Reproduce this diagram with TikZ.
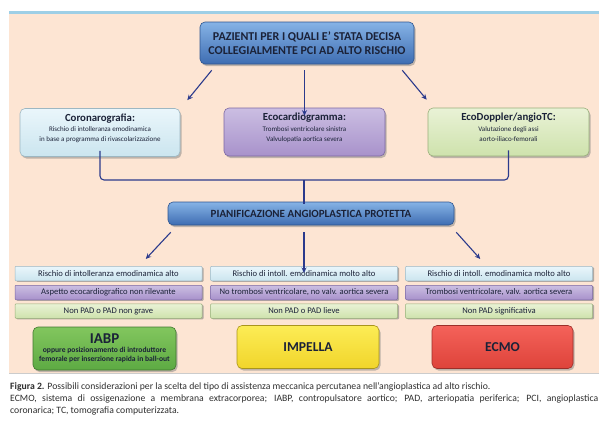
\documentclass[tikz,border=0pt]{standalone}
\usepackage{fontspec}
\setmainfont{Carlito}
\usetikzlibrary{arrows.meta,shadows}
\definecolor{peach}{HTML}{FDE5D3}
\definecolor{topline}{HTML}{9ECFE6}
\definecolor{navy}{HTML}{2B3A8C}
\definecolor{boxtext}{HTML}{1B2238}
\definecolor{bluetop}{HTML}{86B3E6}
\definecolor{bluebot}{HTML}{3E6DB2}
\definecolor{blueedge}{HTML}{2F558F}
\definecolor{cyantop}{HTML}{EAF6FB}
\definecolor{cyanbot}{HTML}{CBE5EF}
\definecolor{cyanedge}{HTML}{9DB7C2}
\definecolor{liltop}{HTML}{CBBEE2}
\definecolor{lilbot}{HTML}{A892CB}
\definecolor{liledge}{HTML}{7C68A3}
\definecolor{grntop}{HTML}{E9F2D6}
\definecolor{grnbot}{HTML}{CEE2AC}
\definecolor{grnedge}{HTML}{98AF7A}
\definecolor{iabptop}{HTML}{82C65E}
\definecolor{iabpbot}{HTML}{5DAA43}
\definecolor{impltop}{HTML}{FCEC55}
\definecolor{implbot}{HTML}{F1D52A}
\definecolor{ecmotop}{HTML}{F4625A}
\definecolor{ecmobot}{HTML}{DE433A}
\definecolor{captext}{HTML}{2E2E2E}
\newcommand\boxtitle{\fontsize{10.8}{12}\selectfont\bfseries}
\begin{document}
\begin{tikzpicture}[x=1pt,y=-1pt,
  arr/.style={-{Stealth[length=5.5pt,width=5pt]},navy,line width=1.1pt},
  brace/.style={navy,line width=1.1pt,rounded corners=4pt},
  bigbox/.style={draw=#1,line width=0.6pt,rounded corners=5pt,align=center,inner sep=1pt,
    text=boxtext,drop shadow={shadow xshift=1.5pt,shadow yshift=-2pt,opacity=.5}},
  exam/.style={bigbox=#1,minimum width=161pt,minimum height=48pt,text depth=10pt,
    font=\fontsize{7}{9.8}\selectfont},
  device/.style={bigbox=#1,minimum width=142pt,minimum height=43pt,
    font=\fontsize{13.6}{14}\selectfont\bfseries},
  strip/.style={draw=#1,line width=0.5pt,rounded corners=1pt,inner sep=0pt,
    minimum width=187pt,minimum height=14.5pt,text=boxtext,
    font=\fontsize{8.6}{9}\selectfont,
    drop shadow={shadow xshift=1.5pt,shadow yshift=-1pt,opacity=.6}}
]
\useasboundingbox (0,0) rectangle (608,426);
% panel
\fill[peach] (9,14) rectangle (599,373);
\draw[black!20,line width=1pt] (9,373.5) -- (599,373.5);
\draw[topline,line width=3pt] (9,12.5) -- (599,12.5);

% top level
\node[bigbox=blueedge,top color=bluetop,bottom color=bluebot,
  minimum width=214pt,minimum height=42pt,
  font=\fontsize{12}{14}\selectfont\bfseries] (patients) at (307,43)
  {PAZIENTI PER I QUALI E' STATA DECISA\\COLLEGIALMENTE PCI AD ALTO RISCHIO};

% exams
\node[exam=cyanedge,top color=cyantop,bottom color=cyanbot,minimum width=160pt] (coro) at (100,132.5)
  {{\boxtitle Coronarografia:}\\[1pt]
   Rischio di intolleranza emodinamica\\in base a programma di rivascolarizzazione};
\node[exam=liledge,top color=liltop,bottom color=lilbot] (echo) at (304.5,132)
  {{\boxtitle Ecocardiogramma:}\\[1pt]
   Trombosi ventricolare sinistra\\Valvulopatia aortica severa};
\node[exam=grnedge,top color=grntop,bottom color=grnbot] (doppler) at (508.5,132)
  {{\boxtitle EcoDoppler/angioTC:}\\[1pt]
   Valutazione degli assi\\aorto-iliaco-femorali};

\draw[arr] ([shift={(12,6)}]patients.south west) -- ([shift={(7,-8)}]coro.north east);
\draw[arr] (echo.north |- patients.south) ++(0,6) -- ([yshift=-8]echo.north);
\draw[arr] ([shift={(-12,6)}]patients.south east) -- ([shift={(-1,-8)}]doppler.north west);

% brace
\coordinate (join) at (304,180);
\draw[brace] ([yshift=6]coro.south) |- (join) -| ([yshift=6]doppler.south);

% planning
\node[bigbox=blueedge,top color=bluetop,bottom color=bluebot,
  minimum width=286pt,minimum height=23pt,
  font=\fontsize{11}{12}\selectfont\bfseries] (plan) at (311,213.5)
  {PIANIFICAZIONE ANGIOPLASTICA PROTETTA};
\draw[brace] (join) -- ([yshift=-2]plan.north -| join);

% criteria
\node[strip=cyanedge,top color=cyantop,bottom color=cyanbot] (c1a) at (108.5,273.5) {Rischio di intolleranza emodinamica alto};
\node[strip=liledge,top color=liltop,bottom color=lilbot] (c1b) at (108.5,292.5) {Aspetto ecocardiografico non rilevante};
\node[strip=grnedge,top color=grntop,bottom color=grnbot] (c1c) at (108.5,311) {Non PAD o PAD non grave};
\node[strip=cyanedge,top color=cyantop,bottom color=cyanbot] (c2a) at (304,273.5) {Rischio di intoll. emodinamica molto alto};
\node[strip=liledge,top color=liltop,bottom color=lilbot] (c2b) at (304,292.5) {No trombosi ventricolare, no valv. aortica severa};
\node[strip=grnedge,top color=grntop,bottom color=grnbot] (c2c) at (304,311) {Non PAD o PAD lieve};
\node[strip=cyanedge,top color=cyantop,bottom color=cyanbot] (c3a) at (499,273.5) {Rischio di intoll. emodinamica molto alto};
\node[strip=liledge,top color=liltop,bottom color=lilbot] (c3b) at (499,292.5) {Trombosi ventricolare, valv. aortica severa};
\node[strip=grnedge,top color=grntop,bottom color=grnbot] (c3c) at (499,311) {Non PAD significativa};

\draw[arr] ([shift={(3,7)}]plan.south west) -- ([shift={(131,-7)}]c1a.north west);
\draw[arr] (c2a.north |- plan.south) ++(0,7) -- ([yshift=-7]c2a.north);
\draw[arr] ([shift={(2,7)}]plan.south east) -- ([shift={(75,-7)}]c3a.north west);

% devices
\node[bigbox=iabpbot!70!black,top color=iabptop,bottom color=iabpbot,
  minimum width=143pt,minimum height=43pt,
  font=\fontsize{7.6}{9.6}\selectfont\bfseries] (iabp) at (104.5,348.5)
  {{\fontsize{15}{15}\selectfont IABP}\\[-1.5pt]
   oppure posizionamento di introduttore\\femorale per inserzione rapida in ball-out};
\node[device=implbot!70!black,top color=impltop,bottom color=implbot] (impella) at (308,347) {IMPELLA};
\node[device=ecmobot!70!black,top color=ecmotop,bottom color=ecmobot,minimum width=141pt] (ecmo) at (502.5,347) {ECMO};

% caption
\node[anchor=north west,text width=588pt,align=justify,inner sep=0pt,text=captext,
  font=\fontsize{9.7}{12.2}\selectfont] (caption) at (10,382.5)
  {\textbf{Figura 2.} Possibili considerazioni per la scelta del tipo di assistenza meccanica percutanea nell'angioplastica ad alto rischio.\\
   ECMO, sistema di ossigenazione a membrana extracorporea; IABP, contropulsatore aortico; PAD, arteriopatia periferica; PCI, angioplastica\linebreak coronarica; TC, tomografia computerizzata.};
\end{tikzpicture}
\end{document}
